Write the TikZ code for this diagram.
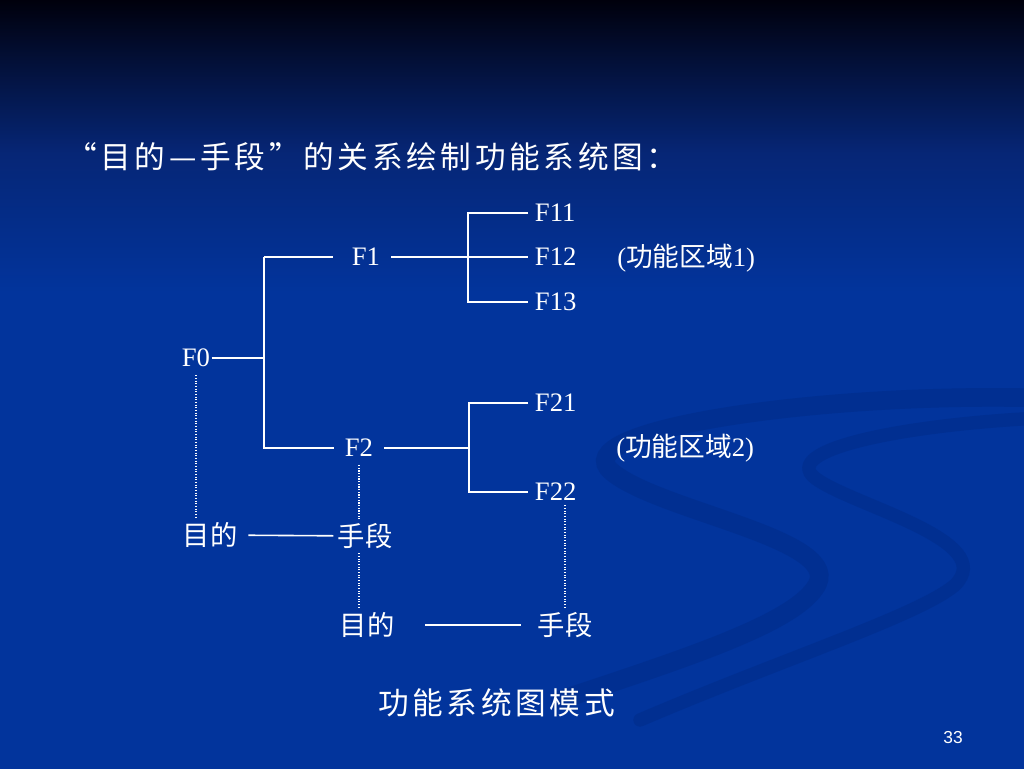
\documentclass[tikz,border=0pt]{standalone}
\usepackage{fontspec}
\setmainfont{Liberation Serif}
\setsansfont{Liberation Sans}
\newfontfamily\cjk{Noto Sans CJK SC}
\newfontfamily\cjkwide[LetterSpace=12]{Noto Sans CJK SC}
\definecolor{bgtop}{RGB}{0,0,12}
\definecolor{bgdark}{RGB}{3,16,56}
\definecolor{bgmid}{RGB}{6,38,118}
\definecolor{bgbody}{RGB}{2,52,156}
\definecolor{swooshblue}{RGB}{0,36,120}
\pgfdeclareverticalshading{slidebg}{100bp}{color(0bp)=(bgbody); color(56bp)=(bgbody); color(65bp)=(bgmid); color(71bp)=(bgdark); color(75bp)=(bgtop); color(100bp)=(bgtop)}
\begin{document}
\begin{tikzpicture}[x=0.75pt,y=-0.75pt,
  fn/.style={font=\fontsize{20}{24}\selectfont, text=white, inner ysep=2pt},
  cj/.style={font={\cjk\fontsize{20.5}{24}\selectfont}, text=white, inner xsep=3pt},
  ttl/.style={font={\cjkwide\fontsize{23}{27}\selectfont}, text=white, inner sep=0pt},
  ln/.style={draw=white, line width=1.2pt},
  dl/.style={draw=white, line width=0.8pt, dash pattern=on 0.8pt off 1.2pt},
  swoosh/.style={draw=swooshblue, line width=14pt, line cap=round, opacity=.3}]
\useasboundingbox (0,0) rectangle (1024,768);
\shade[shading=slidebg] (0,0) rectangle (1024,768);
\draw[swoosh] (1040,398) .. controls (820,392) and (560,430) .. (612,472) .. controls (660,512) and (850,540) .. (815,588) .. controls (790,625) and (680,660) .. (560,700);
\draw[swoosh, line width=10pt] (1040,418) .. controls (900,425) and (780,450) .. (815,478) .. controls (850,505) and (1000,540) .. (955,585) .. controls (920,615) and (780,660) .. (640,720);
\node[ttl, anchor=west] (title) at (66,157) {“目的—手段”的关系绘制功能系统图：};
\node[fn, inner xsep=1pt] (F0) at (196,358) {F0};
\node[fn, inner xsep=8pt] (F1) at (366,257) {F1};
\node[fn, inner xsep=8pt] (F2) at (359,448) {F2};
\node[fn, anchor=west, inner xsep=5pt] (F11) at (528,213) {F11};
\node[fn, anchor=west, inner xsep=5pt] (F12) at (528,257) {F12};
\node[fn, anchor=west, inner xsep=5pt] (F13) at (528,302) {F13};
\node[fn, anchor=west, inner xsep=5pt] (F21) at (528,403) {F21};
\node[fn, anchor=west, inner xsep=5pt] (F22) at (528,492) {F22};
\node[fn, anchor=west, inner xsep=0pt] (zone1) at (617,258) {({\cjk 功能区域}1)};
\node[fn, anchor=west, inner xsep=0pt] (zone2) at (616,448) {({\cjk 功能区域}2)};
\coordinate (s0a) at (264,257);
\coordinate (s0b) at (264,448);
\coordinate (s1a) at (468,213);
\coordinate (s1b) at (468,302);
\coordinate (s2a) at (469,403);
\coordinate (s2b) at (469,492);
\draw[ln] (F0) -- (F0 -| s0a);
\draw[ln, shorten >=6pt] (s0a) -- (F1);
\draw[ln] (s0a) -- (s0b) -- (F2);
\draw[ln] (F1) -- (F12);
\draw[ln] (F11) -| (s1b) -- (F13);
\draw[ln] (F2) -- (F2 -| s2a);
\draw[ln] (F21) -| (s2b) -- (F22);
\node[cj] (mu1) at (210,535) {目的};
\node[cj] (sd1) at (365,536) {手段};
\node[cj] (mu2) at (367,625) {目的};
\node[cj] (sd2) at (565,625) {手段};
\draw[ln, shorten <=5pt] (mu1) -- (sd1);
\draw[ln, shorten <=20pt, shorten >=9pt] (mu2) -- (sd2);
\draw[dl, shorten <=4pt] (F0) -- (F0 |- mu1.north);
\draw[dl, shorten <=4pt] (F2) -- (F2 |- sd1.north);
\draw[dl] (sd1.south -| F2) -- (F2 |- mu2.north);
\draw[dl] (sd2) -- (sd2 |- F22.south);
\node[ttl, anchor=west] (caption) at (378,703) {功能系统图模式};
\node[font=\sffamily\fontsize{13}{15}\selectfont, text=white] (page) at (953,738) {33};
\end{tikzpicture}
\end{document}
